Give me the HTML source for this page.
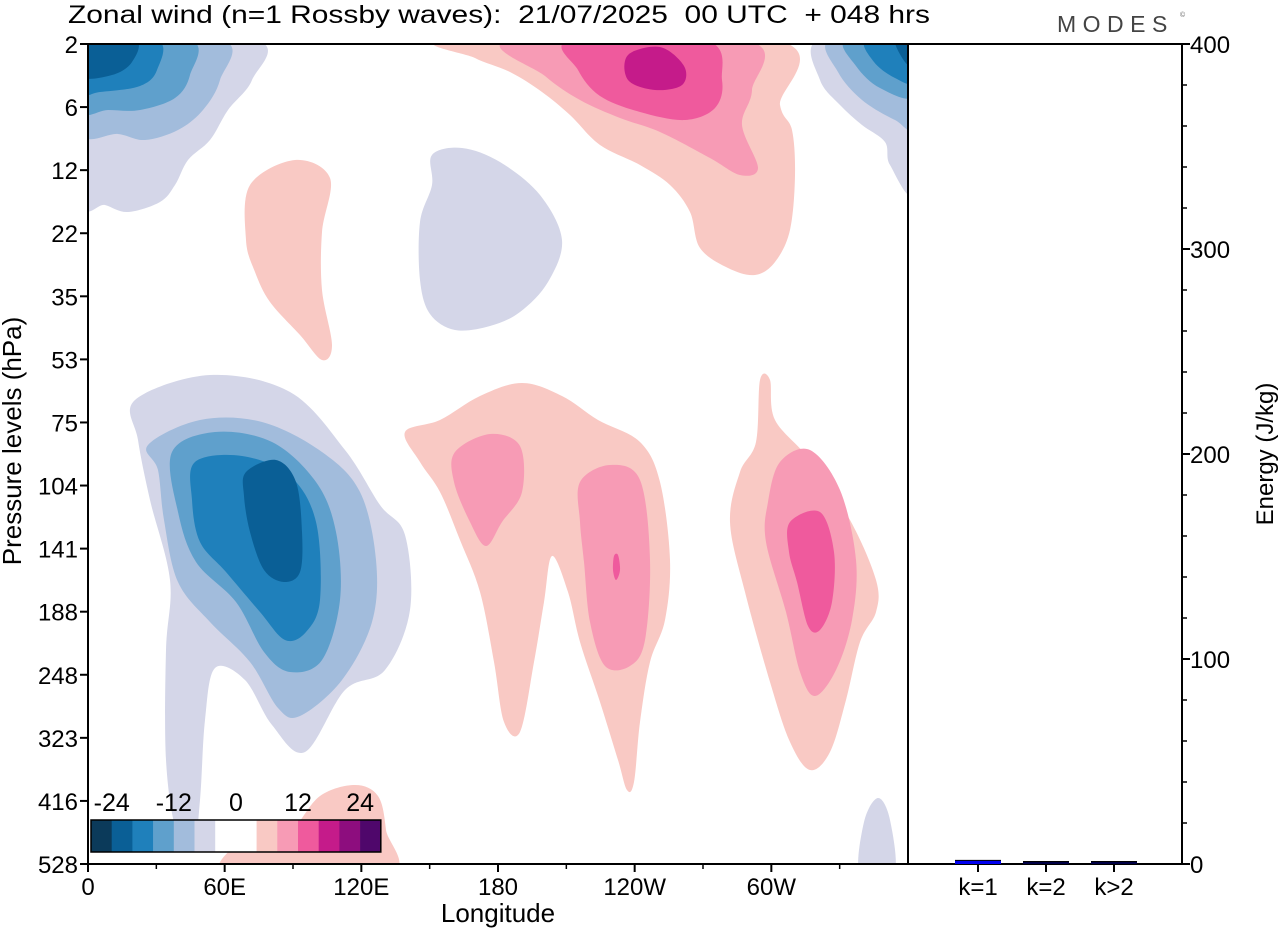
<!DOCTYPE html>
<html><head><meta charset="utf-8"><style>
html,body{margin:0;padding:0;background:#fff;}
svg{display:block;font-family:"Liberation Sans",Arial,sans-serif;}
.pre{white-space:pre;}
</style></head><body>
<svg id="c" width="1280" height="930" viewBox="0 0 1280 930" xmlns="http://www.w3.org/2000/svg">
<defs><clipPath id="pc"><rect x="88" y="44" width="820" height="820"/></clipPath></defs>
<text class="pre" x="68" y="23" font-size="25" textLength="862" lengthAdjust="spacingAndGlyphs" fill="#000">Zonal wind (n=1 Rossby waves):  21/07/2025  00 UTC  + 048 hrs</text>
<text x="1057" y="32" font-size="23" fill="#444" letter-spacing="6.5">MODES</text>
<text x="1180" y="17" font-size="7" fill="#666">©</text>
<g id="contours" clip-path="url(#pc)"></g>
<g id="axes"></g>
</svg>
<script>
const levelLabels=["2","6","12","22","35","53","75","104","141","188","248","323","416","528"];
const lonLabels=["0","60E","120E","180","120W","60W"];
const lonValues=[0,60,120,180,240,300];
const energyTicks=[0,100,200,300,400];
const barCats=["k=1","k=2","k>2"];
const barVals=[1.3,0.5,0.7];
const cbarColors=["#0b3a5a","#0a5f96","#1f80bb","#5fa0cc","#a2bcdc","#d4d6e8","#ffffff","#ffffff","#f9c9c4","#f79bb5","#ef5a9d","#c51b8a","#8d0d7e","#4f076b"];
const cbarLabels=["-24","-12","0","12","24"];

const NS="http://www.w3.org/2000/svg";
const svg=document.getElementById('c');
const X0=88,X1=908,Y0=44,Y1=864;
const xLon=l=>X0+(l/360)*(X1-X0);
const yLev=i=>Y0+i*(Y1-Y0)/(levelLabels.length-1);
const RX0=908,RX1=1182;
const yE=v=>Y1-(v/400)*(Y1-Y0);
const xBar=i=>RX0+70+i*68;
function el(t,a,p){const e=document.createElementNS(NS,t);for(const k in a)e.setAttribute(k,a[k]);(p||svg).appendChild(e);return e;}

const shapes=[
 ["#d4d6e8",[[80,40],[255,40],[252,80],[228,110],[210,140],[188,160],[175,185],[160,202],[128,212],[105,205],[80,198]]],
 ["#a2bcdc",[[80,40],[222,40],[220,80],[203,110],[178,130],[145,140],[118,134],[80,132]]],
 ["#5fa0cc",[[80,40],[190,40],[190,75],[175,98],[140,110],[108,110],[80,110]]],
 ["#1f80bb",[[80,40],[157,40],[157,70],[140,86],[100,92],[80,92]]],
 ["#0a5f96",[[80,40],[135,40],[132,62],[112,75],[80,76]]],
 ["#d4d6e8",[[818,40],[820,80],[840,105],[862,125],[885,142],[890,165],[915,190],[915,40]]],
 ["#a2bcdc",[[830,40],[838,72],[862,100],[895,120],[915,126],[915,40]]],
 ["#5fa0cc",[[846,40],[856,66],[880,88],[915,96],[915,40]]],
 ["#1f80bb",[[866,40],[874,62],[895,78],[915,82],[915,40]]],
 ["#0a5f96",[[895,40],[905,62],[915,66],[915,40]]],
 ["#d4d6e8",[[432,155],[462,148],[500,162],[540,195],[562,240],[548,282],[520,312],[490,326],[455,330],[430,314],[420,280],[420,222],[432,185]]],
 ["#f9c9c4",[[452,40],[775,40],[780,105],[792,130],[795,175],[790,230],[775,262],[755,275],[728,268],[700,248],[690,212],[670,185],[640,165],[600,145],[570,115],[542,92],[510,72],[475,58]]],
 ["#f79bb5",[[510,40],[745,40],[752,90],[742,125],[758,168],[740,175],[710,158],[660,132],[620,118],[580,100],[545,76]]],
 ["#ef5a9d",[[570,40],[705,40],[722,80],[715,108],[685,120],[640,112],[600,96],[578,70]]],
 ["#c51b8a",[[628,55],[660,47],[684,66],[682,85],[655,90],[628,80]]],
 ["#f9c9c4",[[250,185],[295,160],[330,178],[322,232],[322,290],[332,345],[322,360],[300,335],[270,302],[255,272],[246,240]]],
 ["#d4d6e8",[[135,400],[210,375],[290,392],[345,450],[380,505],[405,535],[410,610],[385,670],[345,690],[305,752],[272,725],[245,680],[215,668],[205,720],[200,800],[193,850],[176,830],[166,760],[166,650],[170,580],[150,500],[138,440]]],
 ["#a2bcdc",[[148,445],[200,420],[262,422],[322,452],[360,492],[376,560],[372,622],[342,680],[300,716],[278,708],[250,662],[210,622],[178,582],[164,520],[158,470]]],
 ["#5fa0cc",[[172,452],[215,432],[272,442],[316,482],[336,532],[340,600],[322,660],[290,672],[264,652],[236,602],[196,562],[178,512]]],
 ["#1f80bb",[[195,462],[242,456],[290,476],[316,522],[320,600],[306,632],[285,640],[260,612],[226,572],[200,542],[192,500]]],
 ["#0a5f96",[[246,472],[276,460],[296,482],[302,532],[300,572],[284,582],[264,570],[250,532],[244,496]]],
 ["#f9c9c4",[[405,432],[440,420],[480,396],[522,383],[562,396],[598,420],[640,442],[660,482],[670,560],[665,620],[650,662],[640,722],[634,782],[627,790],[618,760],[600,702],[580,642],[568,592],[552,556],[544,602],[534,662],[520,732],[504,722],[494,662],[480,592],[460,540],[440,492],[420,462]]],
 ["#f79bb5",[[455,452],[490,434],[520,446],[522,492],[502,522],[486,546],[470,522],[454,482]]],
 ["#f79bb5",[[580,482],[610,465],[640,480],[650,560],[645,640],[630,666],[605,666],[590,622],[584,562],[580,522]]],
 ["#ef5a9d",[[614,556],[618,555],[620,570],[616,580],[613,570]]],
 ["#f9c9c4",[[760,380],[770,380],[775,420],[810,460],[850,520],[876,580],[876,612],[860,642],[846,700],[830,752],[810,770],[790,742],[770,682],[745,592],[730,522],[740,472],[756,442]]],
 ["#f79bb5",[[780,462],[810,450],[840,490],[856,560],[852,620],[836,670],[815,696],[800,672],[786,612],[766,542],[768,502]]],
 ["#ef5a9d",[[790,522],[820,512],[834,552],[832,602],[820,630],[808,626],[797,582],[789,552]]],
 ["#f9c9c4",[[228,875],[240,842],[262,846],[292,830],[320,796],[355,785],[378,796],[386,830],[388,875]]],
 ["#d4d6e8",[[860,875],[864,822],[878,798],[890,820],[894,875]]]
];
function smooth(p){const n=p.length;let d=`M${p[0][0]},${p[0][1]}`;for(let i=0;i<n;i++){const p0=p[(i-1+n)%n],p1=p[i],p2=p[(i+1)%n],p3=p[(i+2)%n];
 const c1=[p1[0]+(p2[0]-p0[0])/6,p1[1]+(p2[1]-p0[1])/6],c2=[p2[0]-(p3[0]-p1[0])/6,p2[1]-(p3[1]-p1[1])/6];
 d+=`C${c1[0].toFixed(1)},${c1[1].toFixed(1)} ${c2[0].toFixed(1)},${c2[1].toFixed(1)} ${p2[0]},${p2[1]}`;}return d+'Z';}
const cg=document.getElementById('contours');
shapes.forEach(s=>{const e=el('path',{d:smooth(s[1]),fill:s[0]},cg);

});

const ax=document.getElementById('axes');
const f1=el('rect',{x:X0,y:Y0,width:X1-X0,height:Y1-Y0,fill:'none',stroke:'#000','stroke-width':2},ax);


const f2=el('rect',{x:RX0,y:Y0,width:RX1-RX0,height:Y1-Y0,fill:'none',stroke:'#000','stroke-width':2},ax);


levelLabels.forEach((l,i)=>{const y=yLev(i);
 el('line',{x1:X0-8,x2:X0,y1:y,y2:y,stroke:'#000','stroke-width':2},ax);
 const t=el('text',{x:X0-10,y:y+9,'font-size':24,'text-anchor':'end'},ax);t.textContent=l;
 
 });
lonValues.forEach((v,i)=>{const x=xLon(v);
 el('line',{x1:x,x2:x,y1:Y1,y2:Y1+8,stroke:'#000','stroke-width':2},ax);
 const t=el('text',{x:x,y:895,'font-size':24,'text-anchor':'middle'},ax);t.textContent=lonLabels[i];
 
 });
for(let v=30;v<360;v+=60){const x=xLon(v);el('line',{x1:x,x2:x,y1:Y1,y2:Y1+5,stroke:'#000','stroke-width':1.5},ax);}
const xt=el('text',{x:498,y:922,'font-size':26,'text-anchor':'middle'},ax);xt.textContent='Longitude';


const yt=el('text',{x:0,y:0,'font-size':26,'text-anchor':'middle',transform:'translate(21,441) rotate(-90)'},ax);yt.textContent='Pressure levels (hPa)';


for(let v=0;v<=400;v+=20){const y=yE(v);const maj=v%100===0;
 el('line',{x1:RX1,x2:RX1+(maj?8:5),y1:y,y2:y,stroke:'#000','stroke-width':maj?2:1.5},ax);}
energyTicks.forEach(v=>{const t=el('text',{x:RX1+8,y:yE(v)+9,'font-size':24},ax);t.textContent=v;
 
 });
const et=el('text',{x:0,y:0,'font-size':24,'text-anchor':'middle',transform:'translate(1273,454) rotate(-90)'},ax);et.textContent='Energy (J/kg)';


barCats.forEach((c,i)=>{const x=xBar(i);const h=Math.max(1.5,Y1-yE(barVals[i]));
 const b=el('rect',{x:x-23,y:Y1-h-1,width:46,height:h+1,fill:i===0?'#0000ee':'#000044'},ax);
 
 
 el('line',{x1:x-23,x2:x+23,y1:Y1-h-1,y2:Y1-h-1,stroke:'#000','stroke-width':1},ax);
 el('line',{x1:x,x2:x,y1:Y1,y2:Y1+8,stroke:'#000','stroke-width':2},ax);
 const t=el('text',{x:x,y:895,'font-size':24,'text-anchor':'middle'},ax);t.textContent=c;
 
 });
const cbx=91,cbw=20.7,cby=820,cbh=32;
cbarColors.forEach((c,i)=>{const r=el('rect',{x:cbx+i*cbw,y:cby,width:cbw+0.3,height:cbh,fill:c},ax);
 
 });
el('rect',{x:cbx,y:cby,width:cbw*14,height:cbh,fill:'none',stroke:'#000','stroke-width':1.5},ax);
cbarLabels.forEach((l,i)=>{const t=el('text',{x:cbx+cbw*(1+i*3),y:811,'font-size':25,'text-anchor':'middle'},ax);t.textContent=l;
 
 });
</script>
</body></html>
